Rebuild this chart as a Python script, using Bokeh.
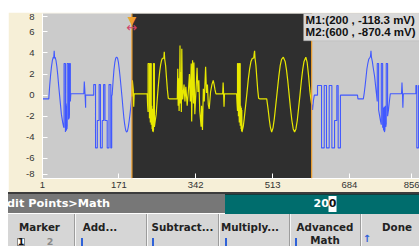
from bokeh.plotting import figure
from bokeh.models import BoxAnnotation, Span, Label, FixedTicker, Range1d, Div, Spacer
from bokeh.layouts import column, row
from bokeh.embed import file_html
from bokeh.resources import INLINE

# ---------------- data ----------------
# waveform before marker 1 (blue)
LEFT_X = [1, 15, 17, 19, 21, 23, 25, 26, 27, 28, 29, 31, 33, 35, 37, 39, 41, 43,
          46, 48, 49, 49, 52, 52, 53, 53.5, 54, 54.5, 55, 55.5, 56, 56, 59, 59, 60, 60.5, 61, 61, 63, 63, 64,
          93, 94, 95, 96, 97, 97, 115, 115, 119, 119, 123, 123, 127, 127, 130, 130, 134, 134, 137, 137, 140, 140, 145, 145, 149, 149, 153, 153, 155, 155,
          156, 158, 160, 162, 164, 166, 168, 170, 172, 174, 176, 178, 180, 182, 184, 186, 188, 190, 192, 194, 196, 198, 200]
LEFT_Y = [-0.35, -0.35, 0.9, 1.9, 2.7, 3.3, 3.6, 3.5, 4.2, 3.5, 3.6, 3.3, 2.7, 1.9, 0.9, 0.0, -0.9, -1.8,
          -2.6, -3.0, -3.1, 3.0, 3.0, -3.5, -1.2, -3.4, -1.0, -3.3, -0.8, -3.2, -2.9, 3.0, 3.0, -2.3, -1.6, -2.2, -1.8, 3.0, 3.0, -0.6, 0.13,
          0.13, 1.3, 0.6, -0.2, -1.2, 0.0, 0.0, 1.0, 1.0, -5.0, -5.0, -2.4, -2.4, 1.0, 1.0, -5.0, -5.0, -2.4, -2.4, 1.0, 1.0, -2.4, -2.4, -5.0, -5.0, 1.0, 1.0, -5.0, -5.0, 0.0,
          0.0, 1.3, 2.4, 3.1, 3.5, 3.6, 3.5, 3.1, 2.4, 1.6, 0.7, -0.2, -1.2, -2.1, -2.8, -3.3, -3.5, -3.4, -3.0, -2.4, -1.7, -0.9, -0.12]

# waveform between marker 1 and marker 2 (yellow)
MID_X = [200, 201, 203, 204, 205, 234, 235, 236, 236, 239, 239, 240, 241, 241, 243, 243, 244, 245, 245.5, 246, 246.5, 247, 248, 248, 250, 250, 252,
         254, 256, 258, 260, 262, 264, 266, 268, 271, 272, 273, 275, 277, 279, 281, 283, 301,
         302, 303, 304, 305, 306, 307, 308, 309, 310, 311, 312, 313,
         316, 318, 320, 323, 326, 328, 330, 332, 333, 335, 337, 338, 340, 343, 345, 347, 349, 351,
         354, 355, 357, 359, 361, 364, 366, 368, 370, 372,
         375, 378, 381, 383, 385, 387, 402, 403, 404, 405, 406, 433,
         434, 435, 435, 437, 437, 438, 439, 439, 441, 441, 442, 443, 443.5, 444, 444.5, 445, 446, 447, 448,
         450, 453, 456, 459, 462, 465, 468, 471, 472, 473, 474, 476, 478, 480, 482, 484, 500,
         503, 506, 508, 511, 514, 517, 520, 524, 527, 530, 533, 537, 541, 544, 547, 550, 553, 556, 559, 562,
         565, 568, 571, 574, 577, 580, 583, 587, 590, 593, 596, 598, 600]
MID_Y = [-0.12, 1.4, 0.5, -1.1, 0.13, 0.13, -1.0, -1.6, 3.0, 3.0, -2.2, -0.8, -2.6, 3.0, 3.0, -2.8, -1.0, -3.2, -1.3, -3.4, -1.5, -3.5, -3.3, 3.0, 3.0, -3.0, -2.4,
         -1.8, -0.6, 0.5, 1.5, 2.3, 2.9, 3.3, 3.5, 3.5, 4.1, 3.4, 2.8, 1.6, 0.5, -0.3, -0.35, -0.35,
         2.5, -1.0, 1.6, -1.5, 0.4, 4.7, -0.8, 2.2, -1.6, 4.4, 0.5, -0.4,
         1.0, -0.6, 0.8, -1.0, 0.6, 2.0, -0.6, 3.0, -2.5, 3.3, -0.8, 3.1, -1.8, 0.8, 2.6, 0.3, 1.4, -1.5,
         -3.0, -1.0, -3.3, 0.6, -0.6, 2.7, 0.2, 1.0, -0.9, -1.3,
         0.3, 1.0, 1.4, 1.0, 0.5, 0.13, 0.13, 1.2, 0.2, -1.1, 0.13, 0.13,
         -0.8, -1.5, 3.0, 3.0, -2.0, -0.6, -2.6, 3.0, 3.0, -2.9, -1.0, -3.2, -1.2, -3.4, -1.4, -3.5, -3.3, -3.1, -2.9,
         -2.2, -1.0, 0.2, 1.5, 2.5, 3.2, 3.5, 3.5, 3.9, 4.2, 3.5, 2.8, 1.6, 0.5, -0.3, -0.35, -0.35,
         -1.3, -2.4, -3.0, -3.5, -3.1, -2.2, -1.0, 0.6, 1.8, 2.8, 3.4, 3.6, 3.2, 2.4, 1.3, 0.0, -1.3, -2.4, -3.2, -3.5,
         -3.2, -2.4, -1.2, 0.0, 1.3, 2.4, 3.2, 3.6, 3.1, 1.9, 0.4, -0.3, -0.87]

# waveform after marker 2 (blue)
RIGHT_X = [600, 602, 604, 606, 613, 613, 622, 622, 628, 628, 633, 633, 639, 639, 645, 645, 651, 651, 656, 656, 659, 659, 664, 664,
           702, 703, 715, 717, 719, 721, 723, 725, 727, 730, 731, 732, 733, 735, 737, 740, 742, 744, 746,
           746, 749, 749, 751, 753, 755, 755, 758, 758, 759, 760, 760.5, 761, 761.5, 762, 763, 764, 765, 766, 766, 769, 769, 771, 773, 775,
           800, 801, 802, 803, 804, 832, 832, 834, 834, 838, 838, 842]
RIGHT_Y = [-0.87, -1.4, -0.5, 0.0, 0.0, 0.92, 0.92, -5.0, -5.0, 0.92, 0.92, -5.0, -5.0, 0.92, 0.92, -5.0, -5.0, -2.4, -2.4, 0.92, 0.92, -5.0, -5.0, 0.0,
           0.0, -0.35, -0.35, 0.2, 0.9, 1.7, 2.5, 3.0, 3.4, 3.6, 3.7, 4.2, 3.6, 3.2, 2.6, 1.8, 1.0, 0.2, -0.6,
           3.0, 3.0, -1.4, -1.9, -2.4, -2.8, 3.0, 3.0, -3.1, -1.2, -3.3, -1.3, -3.4, -1.1, -3.5, -3.3, -1.0, -3.0, -2.7, 3.0, 3.0, -2.0, -1.4, -0.6, 0.13,
           0.13, 1.2, 0.3, -1.2, 0.13, 0.13, 0.92, 0.92, -5.0, -5.0, 0.92, 0.92]

MARKERS = [200, 600]
READOUT = ["M1:(200 , -118.3 mV)", "M2:(600 , -870.4 mV)"]
X_TICKS = [1, 171, 342, 513, 684, 856]
Y_TICKS = [-8, -6, -4, -2, 0, 2, 4, 6, 8]
MENU_PATH = "dit Points&gt;Math"
ENTRY_VALUE = "200"
BUTTONS = ["Marker", "Add...", "Subtract...", "Multiply...", "Advanced", "Done"]

assert len(LEFT_X) == len(LEFT_Y)
assert len(MID_X) == len(MID_Y)
assert len(RIGHT_X) == len(RIGHT_Y)

# ---------------- layout constants ----------------
PAGE_W = 419
W = 411
X_LO, X_HI = 1, 840
Y_LO, Y_HI = -7.9, 7.74
BEIGE = "#f6efd7"
PLOT_GRAY = "#cbcbcb"
DARK = "#2f2f2f"
BLUE = "#4058ff"
YELLOW = "#e8e800"
ORANGE = "#f0a030"

p = figure(width=W, height=180, x_range=Range1d(X_LO, X_HI), y_range=Range1d(Y_LO, Y_HI),
           output_backend="svg", toolbar_location=None,
           min_border_left=34, min_border_right=0, min_border_top=1, min_border_bottom=14,
           background_fill_color=PLOT_GRAY, border_fill_color=BEIGE, outline_line_color=None)
p.grid.visible = False

# selected region between the two markers
p.add_layout(BoxAnnotation(left=MARKERS[0], right=MARKERS[1], fill_color=DARK, fill_alpha=1.0,
                           line_color=None, level="underlay"))

p.line(LEFT_X, LEFT_Y, line_color=BLUE, line_width=1.1)
p.line(RIGHT_X, RIGHT_Y, line_color=BLUE, line_width=1.1)
p.line(MID_X, MID_Y, line_color=YELLOW, line_width=1.2)

for m in MARKERS:
    p.add_layout(Span(location=m, dimension="height", line_color=ORANGE, line_width=1.2))

# ticks (edge labels are held inside the plot, as on the instrument)
x_pos = [min(max(t, X_LO), X_HI - 17) for t in X_TICKS]
y_pos = [round(min(max(t, Y_LO + 0.4), Y_HI - 0.3), 2) for t in Y_TICKS]
p.xaxis.ticker = FixedTicker(ticks=x_pos)
p.xaxis.major_label_overrides = {pos: str(t) for pos, t in zip(x_pos, X_TICKS)}
p.yaxis.ticker = FixedTicker(ticks=y_pos)
p.yaxis.major_label_overrides = {pos: str(t) for pos, t in zip(y_pos, Y_TICKS)}
for ax in (p.xaxis[0], p.yaxis[0]):
    ax.axis_line_color = "white"
    ax.major_tick_in = 5
    ax.major_tick_out = 0
    ax.major_tick_line_color = "white"
    ax.minor_tick_line_color = None
    ax.major_label_text_font = "Liberation Sans"
    ax.major_label_text_font_size = "9.5px"
    ax.major_label_text_color = "#333333"
p.yaxis.major_label_standoff = 8
p.xaxis.major_label_standoff = 3

# marker readout box
p.add_layout(BoxAnnotation(left=582, right=X_HI, top=Y_HI, bottom=5.15, fill_color="#d9d9d9",
                           fill_alpha=1.0, line_color="#a8a8a8", line_width=1))
for txt, yy in zip(READOUT, [7.08, 5.94]):
    p.add_layout(Label(x=582, y=yy, x_offset=2, text=txt, text_align="left", text_baseline="middle",
                       text_font="Liberation Sans", text_font_style="bold", text_font_size="11.5px",
                       text_color="#111111"))

# marker 1 handle and drag arrow
p.add_layout(Label(x=MARKERS[0], y=Y_HI, text="\u25BC", text_align="center", text_baseline="top",
                   text_font="DejaVu Sans", text_font_size="11px", text_color=ORANGE))
p.add_layout(Label(x=MARKERS[0], y=6.4, text="\u2194", text_align="center", text_baseline="middle",
                   text_font="DejaVu Sans", text_font_size="13px", text_color="#d2456a"))

# ---------------- soft-key panel (coordinates are page pixels) ----------------
PANEL_H = 54

def box(l, t, w, h, bg, extra=""):
    return (f'<div style="position:absolute;left:{l}px;top:{t}px;width:{w}px;height:{h}px;'
            f'background:{bg};{extra}"></div>')

def ctext(cx, cy, s, size, color, extra=""):
    return (f'<div style="position:absolute;left:{cx}px;top:{cy - 7}px;transform:translateX(-50%);'
            f'height:14px;line-height:14px;font-size:{size}px;font-weight:bold;color:{color};'
            f'white-space:nowrap;{extra}">{s}</div>')

parts = []
parts.append(box(8, 0, PAGE_W - 8, 2, "#3c3c3c"))
parts.append(f'<div style="position:absolute;left:8px;top:2px;width:{PAGE_W - 8}px;height:19px;'
             f'background:#777777;overflow:hidden"><div style="position:absolute;left:-1px;top:2px;'
             f'line-height:16px;font-size:11.3px;font-weight:bold;color:white;white-space:nowrap">'
             f'{MENU_PATH}</div></div>')
parts.append(box(225, 2, PAGE_W - 225, 20, "#006d6d", "box-sizing:border-box;border-top:1px solid #163c3c"))
parts.append(f'<div style="position:absolute;left:325px;top:4px;transform:translateX(-50%);height:16px;'
             f'line-height:16px;font-size:11px;font-weight:bold;color:white;white-space:nowrap">'
             f'{ENTRY_VALUE[:-1]}<span style="display:inline-block;background:white;color:#111;'
             f'height:16px;line-height:16px;">{ENTRY_VALUE[-1]}</span></div>')
parts.append(box(8, 22, PAGE_W - 8, PANEL_H - 22, "#d6d6d6"))
for sx in [74, 146, 218, 289, 360]:
    parts.append(box(sx, 22, 1, PANEL_H - 22, "#9c9c9c"))
    parts.append(box(sx + 1, 22, 1, PANEL_H - 22, "#f6f6f6"))
for cx, s in zip([39.5, 100, 182.5, 250, 325, 397], BUTTONS):
    parts.append(ctext(cx, 35, s, 10.3, "#222222"))
parts.append(ctext(325, 48, "Math", 10.3, "#222222"))
parts.append(box(17, 46, 8, 8, "white", "border:1px solid #888;box-sizing:border-box"))
parts.append(ctext(21, 50, "1", 9.5, "#111111"))
parts.append(ctext(50, 50, "2", 9.5, "#8a8a8a"))
for bx in [81, 152, 225, 295]:
    parts.append(box(bx, 46, 2, 8, "#2f62d8"))
parts.append(ctext(367, 47, "\u2191", 10, "#2f62d8"))

html = (f'<div style="position:relative;width:{PAGE_W}px;height:{PANEL_H}px;overflow:hidden;'
        'font-family:\'DejaVu Sans\',sans-serif;">' + "".join(parts) + '</div>')
panel = Div(text=html, width=PAGE_W, height=PANEL_H, styles={"overflow": "hidden", "margin": "0", "padding": "0"})

layout = column(Spacer(width=PAGE_W, height=12),
                row(Spacer(width=8, height=180), p, spacing=0),
                panel, spacing=0)

open("out.html", "w").write(file_html(layout, INLINE))
